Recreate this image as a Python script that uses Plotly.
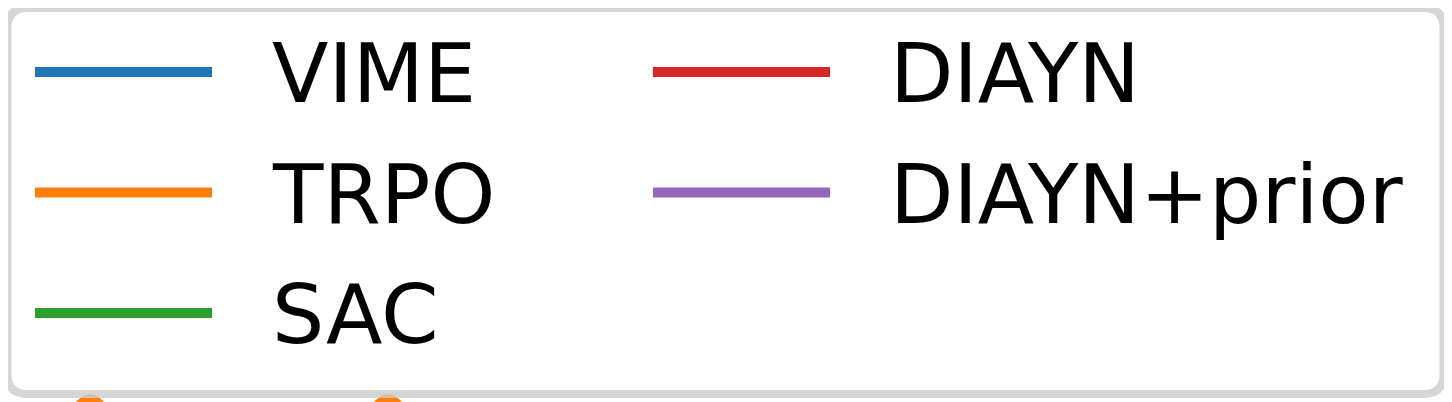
import plotly.graph_objects as go

# legend entries, in matplotlib's column-major order (ncol=2)
labels = ["VIME", "TRPO", "SAC", "DIAYN", "DIAYN+prior"]
colors = ["#1f77b4", "#ff7f0e", "#2ca02c", "#d62728", "#9467bd"]

# tips of the TRPO curve that peek out under the legend frame
trpo_x = [62, 76, 90, 104, 118, 360, 374, 388, 402, 416]
trpo_y = [460, 410, 399, 410, 460, 460, 410, 399, 410, 460]

W, H = 1452, 402
body_margin = 8  # the html page's default body margin
n_rows = 3
row_y0, row_step = 72, 120.5
col_x0, col_step = 35, 618
handle_len = 177
text_gap = 58
font_size = 82.5

fig = go.Figure()

fig.add_trace(go.Scatter(
    x=trpo_x[:5], y=trpo_y[:5], mode="lines",
    line=dict(color=colors[1], width=10, shape="spline"),
    hoverinfo="skip", showlegend=False,
))
fig.add_trace(go.Scatter(
    x=trpo_x[5:], y=trpo_y[5:], mode="lines",
    line=dict(color=colors[1], width=10, shape="spline"),
    hoverinfo="skip", showlegend=False,
))


def rounded_box(x0, y0, x1, y1, r):
    return (f"M{x0 + r},{y0} L{x1 - r},{y0} Q{x1},{y0} {x1},{y0 + r} "
            f"L{x1},{y1 - r} Q{x1},{y1} {x1 - r},{y1} "
            f"L{x0 + r},{y1} Q{x0},{y1} {x0},{y1 - r} "
            f"L{x0},{y0 + r} Q{x0},{y0} {x0 + r},{y0} Z")


# legend frame (matplotlib: edge 0.8 grey, framealpha 0.8)
fig.add_shape(type="path", path=rounded_box(7.5, 8, 1443.5, 394, 20),
              xref="x", yref="y", layer="above",
              fillcolor="rgba(255,255,255,0.8)",
              line=dict(color="rgba(204,204,204,0.8)", width=8))

for i, (lab, col) in enumerate(zip(labels, colors)):
    r, c = i % n_rows, i // n_rows
    y = row_y0 + r * row_step
    x = col_x0 + c * col_step
    fig.add_shape(type="line", x0=x, x1=x + handle_len, y0=y, y1=y,
                  xref="x", yref="y", layer="above",
                  line=dict(color=col, width=10))
    fig.add_annotation(x=x + handle_len + text_gap, y=y + 1, text=lab,
                       xref="x", yref="y", xanchor="left", yanchor="middle",
                       showarrow=False,
                       font=dict(family="DejaVu Sans", size=font_size, color="black"))

fig.update_xaxes(range=[body_margin, W + body_margin], visible=False, fixedrange=True)
fig.update_yaxes(range=[H + body_margin, body_margin], visible=False, fixedrange=True)
fig.update_layout(
    width=W, height=H,
    margin=dict(l=0, r=0, t=0, b=0),
    paper_bgcolor="white", plot_bgcolor="white",
    showlegend=False,
)

fig.write_html("out.html")
